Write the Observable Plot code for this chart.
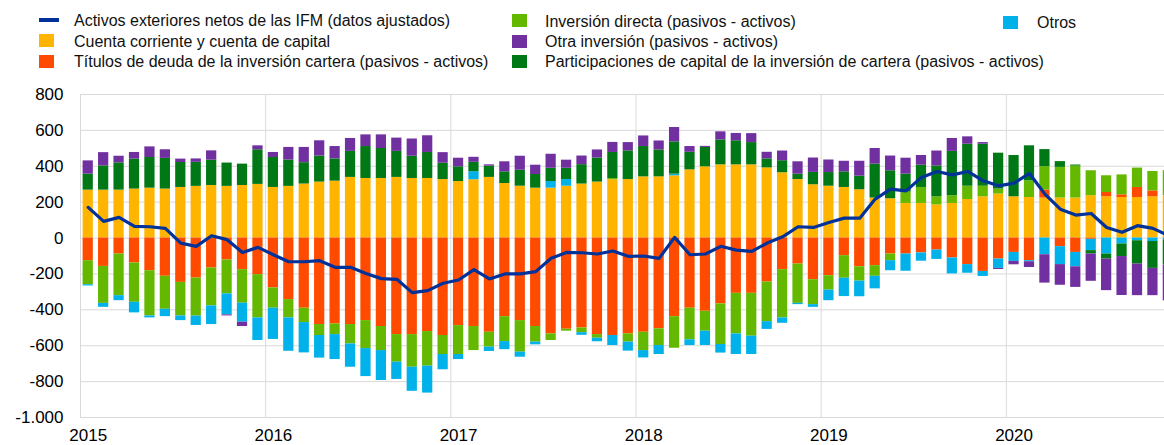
<!DOCTYPE html>
<html><head><meta charset="utf-8">
<script src="https://cdn.jsdelivr.net/npm/d3@7"></script>
<script src="https://cdn.jsdelivr.net/npm/@observablehq/plot@0.6"></script>
<style>
html,body{margin:0;padding:0;background:#fff;overflow:hidden;width:1164px;height:445px;}
body{font-family:"Liberation Sans",Arial,sans-serif;color:#000;position:relative}
#legend{position:absolute;left:0;top:0;width:1164px;height:80px}
.lt{position:absolute;font-size:16px;line-height:20px;height:20px;white-space:nowrap;color:#111}
.sw{position:absolute}
#chart{position:absolute;left:0;top:80px}
</style></head>
<body>
<div id="legend"></div>
<div id="chart"></div>
<script>
// ---- data (monthly, Jan 2015 = index 0) ----
const yearLabels = ["2015","2016","2017","2018","2019","2020"];
const seriesNames = [
  "Cuenta corriente y cuenta de capital",
  "Títulos de deuda de la inversión cartera (pasivos - activos)",
  "Inversión directa (pasivos - activos)",
  "Otros",
  "Participaciones de capital de la inversión de cartera (pasivos - activos)",
  "Otra inversión (pasivos - activos)"
];
const lineName = "Activos exteriores netos de las IFM (datos ajustados)";
const seriesColors = ["#FFB400","#FF4B00","#65B800","#00B1EA","#007816","#7030A0"];
const lineColor = "#003299";

const cuentaCorriente = [267,267,267,273,278,273,282,288,293,288,293,299,
  282,288,301,312,317,338,332,332,338,332,332,326,
  315,325,338,304,289,278,278,289,301,312,325,326,
  341,341,347,380,397,408,408,408,391,364,326,297,
  289,282,269,223,219,193,193,185,193,215,230,245,
  230,226,223,223,223,236,230,226,226,230,236];
const titulosDeuda = [-126,-158,-89,-139,-182,-213,-247,-223,-167,-122,-176,-204,
  -278,-343,-391,-482,-479,-482,-460,-493,-538,-538,-521,-543,
  -488,-493,-525,-438,-460,-493,-534,-508,-501,-538,-543,-534,
  -525,-506,-438,-391,-408,-367,-308,-308,-245,-176,-145,-232,
  -210,-98,-160,-154,-89,-89,-83,-67,-111,-148,-186,-117,
  -80,-126,45,-48,-80,-7,24,15,56,33,0];
const inversionDirecta = [-134,-206,-232,-219,-252,-184,-187,-212,-211,-189,-187,-241,
  -113,-102,-80,-61,-59,-108,-156,-134,-154,-182,-193,-106,
  -161,-134,-83,-139,-176,-87,-37,-11,-26,-20,7,-46,
  -102,-93,-176,-176,-111,-226,-226,-239,-221,-269,-219,-139,
  -80,-126,-80,-59,-37,63,89,45,43,74,59,28,
  0,93,130,171,178,139,93,111,108,108,140];
const otros = [-7,-22,-28,-59,-11,-41,-26,-52,-104,-117,-106,-126,
  -174,-186,-169,-126,-139,-130,-156,-167,-96,-134,-150,-85,
  -28,45,-24,-45,-28,-15,37,37,-15,-20,-56,-50,
  -41,-50,9,-32,-80,-48,-115,-102,-43,-30,-7,-15,
  -59,-102,-87,-70,-56,-96,-46,-52,-89,-48,-28,-52,
  -50,-6,-93,-100,-80,-63,-89,-33,-15,-19,-10];
const participaciones = [89,135,152,167,171,171,139,134,141,130,119,193,
  167,147,119,145,124,145,178,167,145,124,145,91,
  82,52,63,65,89,76,74,63,108,134,145,160,
  169,150,180,98,108,139,134,124,50,67,30,69,
  76,87,76,189,156,100,124,172,247,234,234,200,
  230,195,95,32,6,-19,-28,-70,-130,-150,-140];
const otraInversion = [74,74,37,37,59,48,19,19,52,-6,-24,22,
  28,70,85,85,69,72,65,76,74,96,93,59,
  48,28,7,56,78,52,78,45,48,45,56,46,
  59,50,80,32,6,45,41,50,37,54,69,80,
  70,59,83,87,82,89,54,83,72,41,9,-6,
  -19,-32,-158,-115,-115,-152,-176,-217,-176,-152,-200];
const activosIFM = [171,93,115,65,63,54,-28,-46,13,-9,-80,-52,
  -93,-132,-132,-126,-163,-163,-197,-226,-230,-304,-293,-252,
  -234,-176,-228,-200,-200,-187,-113,-80,-82,-89,-72,-102,
  -100,-113,4,-93,-89,-46,-67,-74,-28,7,63,59,
  87,111,111,217,273,263,338,371,352,371,319,291,
  306,360,245,161,128,137,59,32,69,54,15];
const yTickValues = [-1000,-800,-600,-400,-200,0,200,400,600,800];

// ---- build tables ----
const seriesArrays = [cuentaCorriente, titulosDeuda, inversionDirecta, otros, participaciones, otraInversion];
const bars = [];
for (let i = 0; i < cuentaCorriente.length; i++) {
  seriesArrays.forEach((arr, s) => bars.push({i, series: seriesNames[s], value: arr[i]}));
}
const lineData = activosIFM.map((v, i) => ({i, v}));
const yearGrid = yearLabels.map((_, k) => k * 12);
const yearLabelPos = yearLabels.map((_, k) => k * 12 + 0.5);

const fmt = d3.formatLocale({decimal: ",", thousands: ".", grouping: [3], currency: ["", "€"], minus: "-"}).format(",d");

// ---- legend (HTML) ----
const legend = document.getElementById("legend");
const legendItems = [
  {label: lineName, color: lineColor, kind: "line", x: 39, tx: 74, cy: 20},
  {label: seriesNames[0], color: seriesColors[0], kind: "box", x: 39, tx: 74, cy: 41},
  {label: seriesNames[1], color: seriesColors[1], kind: "box", x: 39, tx: 74, cy: 61.5},
  {label: seriesNames[2], color: seriesColors[2], kind: "box", x: 512, tx: 545, cy: 21},
  {label: seriesNames[5], color: seriesColors[5], kind: "box", x: 512, tx: 545, cy: 41.5},
  {label: seriesNames[4], color: seriesColors[4], kind: "box", x: 512, tx: 545, cy: 61.5},
  {label: seriesNames[3], color: seriesColors[3], kind: "box", x: 1003, tx: 1037, cy: 22.5}
];
for (const it of legendItems) {
  const sw = document.createElement("div");
  sw.className = "sw";
  sw.style.background = it.color;
  if (it.kind === "line") {
    sw.style.left = it.x + "px"; sw.style.width = "20px";
    sw.style.top = (it.cy - 2.5) + "px"; sw.style.height = "4px";
  } else {
    sw.style.left = it.x + "px"; sw.style.width = "15px";
    sw.style.top = (it.cy - 7) + "px"; sw.style.height = "13px";
  }
  legend.appendChild(sw);
  const t = document.createElement("div");
  t.className = "lt";
  t.textContent = it.label;
  t.style.left = it.tx + "px";
  t.style.top = (it.cy - 9.5) + "px";
  legend.appendChild(t);
}

// ---- chart ----
const chart = Plot.plot({
  width: 1164,
  height: 365,
  marginLeft: 80,
  marginRight: 0,
  marginTop: 14,
  marginBottom: 28,
  style: {fontFamily: '"Liberation Sans", Arial, sans-serif', fontSize: "17px", color: "#000", background: "#fff"},
  x: {type: "linear", domain: [0, 70.25], axis: null},
  y: {domain: [-1000, 800], axis: null},
  color: {domain: seriesNames, range: seriesColors},
  marks: [
    Plot.gridY(yTickValues, {stroke: "#d9d9d9", strokeOpacity: 1, strokeWidth: 1}),
    Plot.gridX(yearGrid, {stroke: "#d9d9d9", strokeOpacity: 1, strokeWidth: 1}),
    Plot.rectY(bars, Plot.stackY({
      x1: "i", x2: d => d.i + 1, y: "value", fill: "series",
      insetLeft: 2.6, insetRight: 2.6, clip: true
    })),
    Plot.line(lineData, {x: d => d.i + 0.5, y: "v", stroke: lineColor, strokeWidth: 3.2, curve: "linear", clip: true}),
    Plot.axisY(yTickValues, {tickSize: 0, tickPadding: 17, tickFormat: fmt, fontSize: 17, label: null}),
    Plot.axisX(yearLabelPos, {tickSize: 0, tickPadding: 11, tickFormat: (d) => yearLabels[Math.round((d - 0.5) / 12)], fontSize: 17, label: null})
  ]
});
document.getElementById("chart").appendChild(chart);
</script>
</body></html>
